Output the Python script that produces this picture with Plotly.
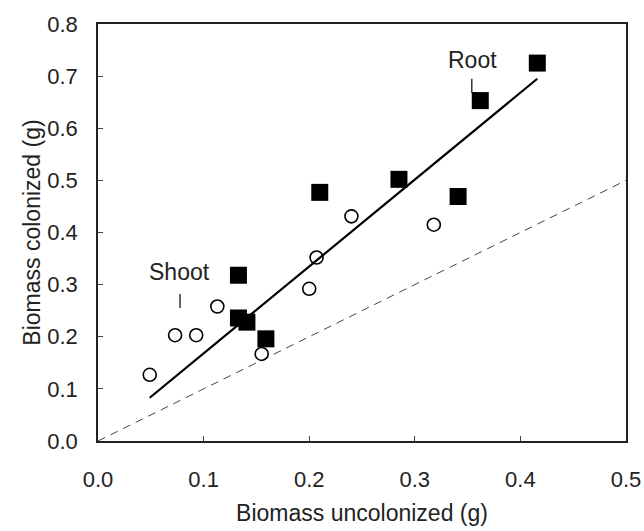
import plotly.graph_objects as go

root_x = [0.133, 0.133, 0.141, 0.159, 0.210, 0.285, 0.341, 0.362, 0.416]
root_y = [0.318, 0.236, 0.228, 0.196, 0.477, 0.502, 0.469, 0.653, 0.725]
shoot_x = [0.049, 0.073, 0.093, 0.113, 0.155, 0.200, 0.207, 0.240, 0.318]
shoot_y = [0.127, 0.203, 0.203, 0.258, 0.167, 0.292, 0.352, 0.431, 0.415]
fit_x = [0.049, 0.416]
fit_y = [0.083, 0.695]
one_x = [0.0, 0.5]
one_y = [0.0, 0.5]
xticks = [0.0, 0.1, 0.2, 0.3, 0.4, 0.5]
yticks = [0.0, 0.1, 0.2, 0.3, 0.4, 0.5, 0.6, 0.7, 0.8]

FONT = "Liberation Sans"
fig = go.Figure()
fig.add_trace(go.Scatter(x=one_x, y=one_y, mode="lines",
                         line=dict(color="#444", width=1, dash="8px,6px"), showlegend=False))
fig.add_trace(go.Scatter(x=fit_x, y=fit_y, mode="lines",
                         line=dict(color="black", width=2.2), showlegend=False))
fig.add_trace(go.Scatter(x=shoot_x, y=shoot_y, mode="markers",
                         marker=dict(symbol="circle-open", size=13, color="black", line=dict(width=1.6)),
                         showlegend=False))
fig.add_trace(go.Scatter(x=root_x, y=root_y, mode="markers",
                         marker=dict(symbol="square", size=17, color="black"),
                         showlegend=False))

# pointer lines for labels
fig.add_shape(type="line", x0=0.0777, x1=0.0777, y0=0.282, y1=0.255, line=dict(color="black", width=1.2))
fig.add_shape(type="line", x0=0.354, x1=0.354, y0=0.695, y1=0.668, line=dict(color="black", width=1.2))
fig.add_shape(type="line", x0=0.354, x1=0.360, y0=0.668, y1=0.668, line=dict(color="black", width=1.2))

fig.add_annotation(x=0.0767, y=0.324, text="Shoot", showarrow=False,
                   font=dict(size=23, color="#222", family=FONT))
fig.add_annotation(x=0.355, y=0.731, text="Root", showarrow=False,
                   font=dict(size=23, color="#222", family=FONT))

axis_common = dict(showgrid=False, zeroline=False, showline=True, linecolor="#222", linewidth=1.5,
                   mirror=True, ticks="inside", ticklen=5, tickcolor="#444", automargin=False,
                   tickfont=dict(size=22, color="#222", family=FONT))
fig.update_xaxes(range=[0, 0.5], tickvals=xticks, ticktext=[f"{v:.1f}" for v in xticks],
                 title=dict(text="Biomass uncolonized (g)", standoff=14,
                            font=dict(size=23, color="#222", family=FONT)),
                 ticklabelstandoff=18, **axis_common)
fig.update_yaxes(range=[0, 0.8], tickvals=yticks, ticktext=[f"{v:.1f}" for v in yticks],
                 title=dict(text="Biomass colonized (g)", standoff=0,
                            font=dict(size=23, color="#222", family=FONT)),
                 ticklabelstandoff=14, **axis_common)
fig.update_layout(width=644, height=531, margin=dict(l=98, r=18, t=24, b=90),
                  plot_bgcolor="white", paper_bgcolor="white")
fig.write_html("out.html", config={"displayModeBar": False},
               post_script="document.body.style.margin='0';document.body.style.overflow='hidden';")
